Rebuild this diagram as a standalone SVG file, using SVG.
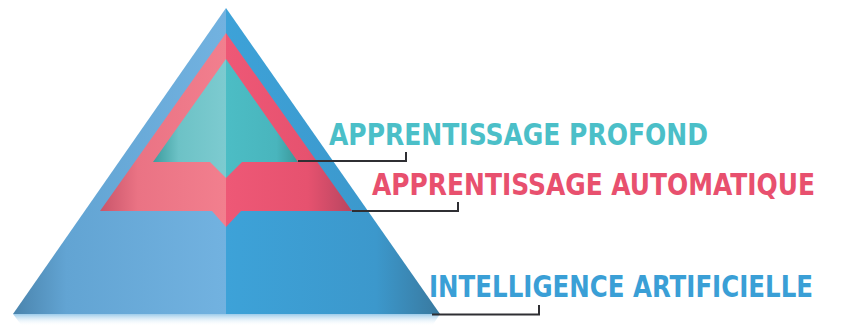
<svg xmlns="http://www.w3.org/2000/svg" width="853" height="326" viewBox="0 0 853 326">
  <defs>
    <linearGradient id="blueL" x1="13" y1="0" x2="226" y2="0" gradientUnits="userSpaceOnUse">
      <stop offset="0" stop-color="#4a84ad"/>
      <stop offset="0.25" stop-color="#62a4d3"/>
      <stop offset="1" stop-color="#72b2e0"/>
    </linearGradient>
    <linearGradient id="blueR" x1="226" y1="0" x2="440" y2="0" gradientUnits="userSpaceOnUse">
      <stop offset="0" stop-color="#3da2d8"/>
      <stop offset="0.7" stop-color="#3c98cc"/>
      <stop offset="1" stop-color="#39799f"/>
    </linearGradient>
    <linearGradient id="pinkL" x1="100" y1="0" x2="226" y2="0" gradientUnits="userSpaceOnUse">
      <stop offset="0" stop-color="#c9556a"/>
      <stop offset="0.3" stop-color="#ea7384"/>
      <stop offset="1" stop-color="#f27f8e"/>
    </linearGradient>
    <linearGradient id="pinkR" x1="226" y1="0" x2="352" y2="0" gradientUnits="userSpaceOnUse">
      <stop offset="0" stop-color="#ee5876"/>
      <stop offset="0.65" stop-color="#e6526f"/>
      <stop offset="1" stop-color="#b84560"/>
    </linearGradient>
    <linearGradient id="tealL" x1="153" y1="0" x2="226" y2="0" gradientUnits="userSpaceOnUse">
      <stop offset="0" stop-color="#3c9c9e"/>
      <stop offset="0.35" stop-color="#6dc2c6"/>
      <stop offset="1" stop-color="#7dcbd0"/>
    </linearGradient>
    <linearGradient id="tealR" x1="226" y1="0" x2="298" y2="0" gradientUnits="userSpaceOnUse">
      <stop offset="0" stop-color="#4cbdc5"/>
      <stop offset="0.7" stop-color="#49b5bd"/>
      <stop offset="1" stop-color="#3a9698"/>
    </linearGradient>
    <linearGradient id="shine" x1="0" y1="314" x2="0" y2="326" gradientUnits="userSpaceOnUse">
      <stop offset="0" stop-color="#9ccbea"/>
      <stop offset="1" stop-color="#ffffff" stop-opacity="0"/>
    </linearGradient>
    <style>
      .lbl { font-family: "DejaVu Sans Condensed", "DejaVu Sans", sans-serif; font-stretch: condensed; font-weight: bold; font-size: 30px; }
      .lead { fill: none; stroke: #2f2f33; stroke-width: 2; }
    </style>
  </defs>

  <rect width="853" height="326" fill="#ffffff"/>

  <!-- soft reflection under the base -->
  <polygon points="13,314 440,314 432,326 22,326" fill="url(#shine)"/>

  <g id="intelligence-artificielle">
    <polygon points="226,8 226,314 13,314" fill="url(#blueL)"/>
    <polygon points="226,8 440,314 226,314" fill="url(#blueR)"/>
    <text class="lbl" x="429" y="297" fill="#3a9fd6" textLength="384" lengthAdjust="spacingAndGlyphs">INTELLIGENCE ARTIFICIELLE</text>
  </g>

  <g id="apprentissage-automatique">
    <polygon points="226,33 226,227 212,211 100,211" fill="url(#pinkL)"/>
    <polygon points="226,33 352,211 241,211 226,227" fill="url(#pinkR)"/>
    <text class="lbl" x="372" y="195" fill="#e8506e" textLength="443" lengthAdjust="spacingAndGlyphs">APPRENTISSAGE AUTOMATIQUE</text>
  </g>

  <g id="apprentissage-profond">
    <polygon points="226,59 226,178 210,162 153,162" fill="url(#tealL)"/>
    <polygon points="226,59 298,162 242,162 226,178" fill="url(#tealR)"/>
    <text class="lbl" x="329" y="145" fill="#4bbfc8" textLength="379" lengthAdjust="spacingAndGlyphs">APPRENTISSAGE PROFOND</text>
  </g>

  <g id="connectors">
    <path class="lead" d="M298,161 H406 V152"/>
    <path class="lead" d="M352,211 H458 V202"/>
    <path class="lead" d="M432,314.5 H539 V305"/>
  </g>
</svg>
